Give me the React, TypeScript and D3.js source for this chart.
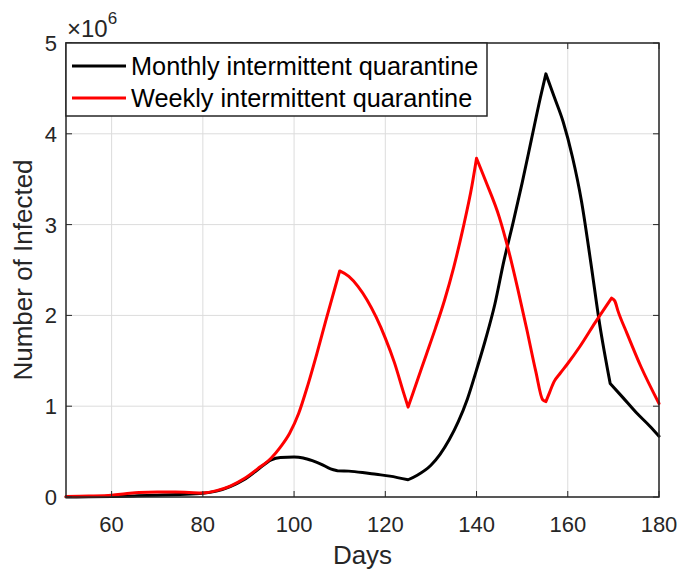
import React from "react";
import * as d3 from "d3";

const monthlyDays = [50, 55, 60, 65, 70, 75, 80, 83, 86, 89, 92, 95, 97, 100, 102, 104, 106, 108, 109.5, 112, 115, 118, 121, 125, 127, 130, 132, 134, 136, 138, 140, 142, 144, 146, 148, 150, 152, 154, 155.2, 157, 159, 161, 163, 165, 167, 169.3, 172, 175, 178, 180];
const monthlyValues = [0, 0.002, 0.005, 0.012, 0.02, 0.028, 0.04, 0.065, 0.115, 0.19, 0.3, 0.41, 0.435, 0.44, 0.43, 0.4, 0.36, 0.31, 0.29, 0.285, 0.27, 0.25, 0.23, 0.19, 0.24, 0.35, 0.47, 0.63, 0.83, 1.08, 1.4, 1.74, 2.12, 2.6, 3.02, 3.46, 3.93, 4.4, 4.66, 4.41, 4.13, 3.75, 3.26, 2.6, 1.9, 1.25, 1.1, 0.93, 0.78, 0.67];
const monthlyKinks = [109.5, 125, 155.2, 169.3];

const weeklyDays = [50, 55, 60, 63, 66, 70, 74, 77, 80, 83, 86, 89, 92, 95, 97, 99, 101, 103, 105, 107, 109, 110, 112, 114, 116, 118, 120, 122, 124, 125, 127, 129, 131, 133, 135, 137, 139, 140, 142, 145, 147, 149, 151, 153, 154.5, 155.2, 156, 157, 158.3, 160, 162.7, 166, 169.6, 170.3, 171, 173, 176, 180];
const weeklyValues = [0.005, 0.01, 0.02, 0.035, 0.05, 0.055, 0.055, 0.05, 0.045, 0.07, 0.12, 0.2, 0.31, 0.43, 0.55, 0.7, 0.92, 1.23, 1.58, 1.95, 2.31, 2.49, 2.43, 2.32, 2.17, 1.98, 1.75, 1.48, 1.15, 0.99, 1.28, 1.57, 1.86, 2.17, 2.53, 2.95, 3.43, 3.73, 3.48, 3.08, 2.72, 2.3, 1.85, 1.38, 1.07, 1.05, 1.15, 1.27, 1.36, 1.47, 1.66, 1.92, 2.19, 2.16, 2.05, 1.8, 1.44, 1.03];
const weeklyKinks = [110, 125, 140, 155.2, 169.6];

const xTicks = [60, 80, 100, 120, 140, 160, 180];
const yTicks = [0, 1, 2, 3, 4, 5];
const seriesNames = ["Monthly intermittent quarantine", "Weekly intermittent quarantine"];
const seriesColors = ["#000000", "#ff0000"];

const W = 680, H = 571;
const L = 66, R = 659, T = 43, B = 497;
const FONT = "'Liberation Sans', Arial, Helvetica, sans-serif";
const AX = "#262626";

type P = [number, number];

function splitAt(points: P[], kinks: number[]): P[][] {
  const segs: P[][] = [];
  let cur: P[] = [];
  points.forEach(p => {
    cur.push(p);
    if (kinks.includes(p[0])) {
      segs.push(cur);
      cur = [p];
    }
  });
  if (cur.length > 1) segs.push(cur);
  return segs;
}

export default function App() {
  const x = d3.scaleLinear().domain([50, 180]).range([L, R]);
  const y = d3.scaleLinear().domain([0, 5]).range([B, T]);
  const line = d3.line<P>().x(d => x(d[0])).y(d => y(d[1])).curve(d3.curveMonotoneX);
  const monthly = monthlyDays.map((d, i) => [d, monthlyValues[i]] as P);
  const weekly = weeklyDays.map((d, i) => [d, weeklyValues[i]] as P);
  const series = [splitAt(monthly, monthlyKinks), splitAt(weekly, weeklyKinks)];
  const pathFor = (segs: P[][]) => {
    let d = "";
    segs.forEach((s, i) => {
      let sd = line(s) || "";
      if (i > 0) sd = sd.replace(/^M[^CLZ]*/, "");
      d += sd;
    });
    return d;
  };

  return (
    <div style={{ position: "fixed", left: 0, top: 0, width: W, height: H, background: "#fff" }}>
      <svg width={W} height={H} style={{ display: "block", fontFamily: FONT }}>
        <rect x={0} y={0} width={W} height={H} fill="#fff" />
        {xTicks.map(t => (
          <line key={"gx" + t} x1={x(t)} x2={x(t)} y1={T} y2={B} stroke="#dcdcdc" strokeWidth={1} />
        ))}
        {yTicks.map(t => (
          <line key={"gy" + t} x1={L} x2={R} y1={y(t)} y2={y(t)} stroke="#dcdcdc" strokeWidth={1} />
        ))}
        {series.map((s, i) => (
          <path key={"s" + i} d={pathFor(s)} fill="none" stroke={seriesColors[i]} strokeWidth={3} strokeLinejoin="round" strokeLinecap="round" />
        ))}
        {xTicks.map(t => (
          <g key={"tx" + t}>
            <line x1={x(t)} x2={x(t)} y1={B} y2={B - 6} stroke={AX} strokeWidth={1} />
            <line x1={x(t)} x2={x(t)} y1={T} y2={T + 6} stroke={AX} strokeWidth={1} />
            <text x={x(t)} y={532} textAnchor="middle" fontSize={22} fill={AX}>{t}</text>
          </g>
        ))}
        {yTicks.map(t => (
          <g key={"ty" + t}>
            <line x1={L} x2={L + 6} y1={y(t)} y2={y(t)} stroke={AX} strokeWidth={1} />
            <line x1={R} x2={R - 6} y1={y(t)} y2={y(t)} stroke={AX} strokeWidth={1} />
            <text x={57} y={y(t)} dy="0.36em" textAnchor="end" fontSize={22} fill={AX}>{t}</text>
          </g>
        ))}
        <rect x={L} y={T} width={R - L} height={B - T} fill="none" stroke={AX} strokeWidth={1.5} />
        <text x={67} y={37} fontSize={24} fill={AX}>
          <tspan>×10</tspan>
          <tspan fontSize={17} dy={-13}>6</tspan>
        </text>
        <text x={(L + R) / 2} y={564} textAnchor="middle" fontSize={26} fill={AX}>Days</text>
        <text transform={`translate(32,${(T + B) / 2}) rotate(-90)`} textAnchor="middle" fontSize={26} fill={AX}>Number of Infected</text>
        <rect x={L} y={T} width={421} height={73} fill="#fff" stroke={AX} strokeWidth={1.5} />
        {seriesNames.map((n, i) => (
          <g key={"lg" + i}>
            <line x1={72} x2={126} y1={66 + i * 32} y2={66 + i * 32} stroke={seriesColors[i]} strokeWidth={3} />
            <text x={131} y={66 + i * 32} dy="0.36em" fontSize={25.3} fill="#000">{n}</text>
          </g>
        ))}
      </svg>
    </div>
  );
}
